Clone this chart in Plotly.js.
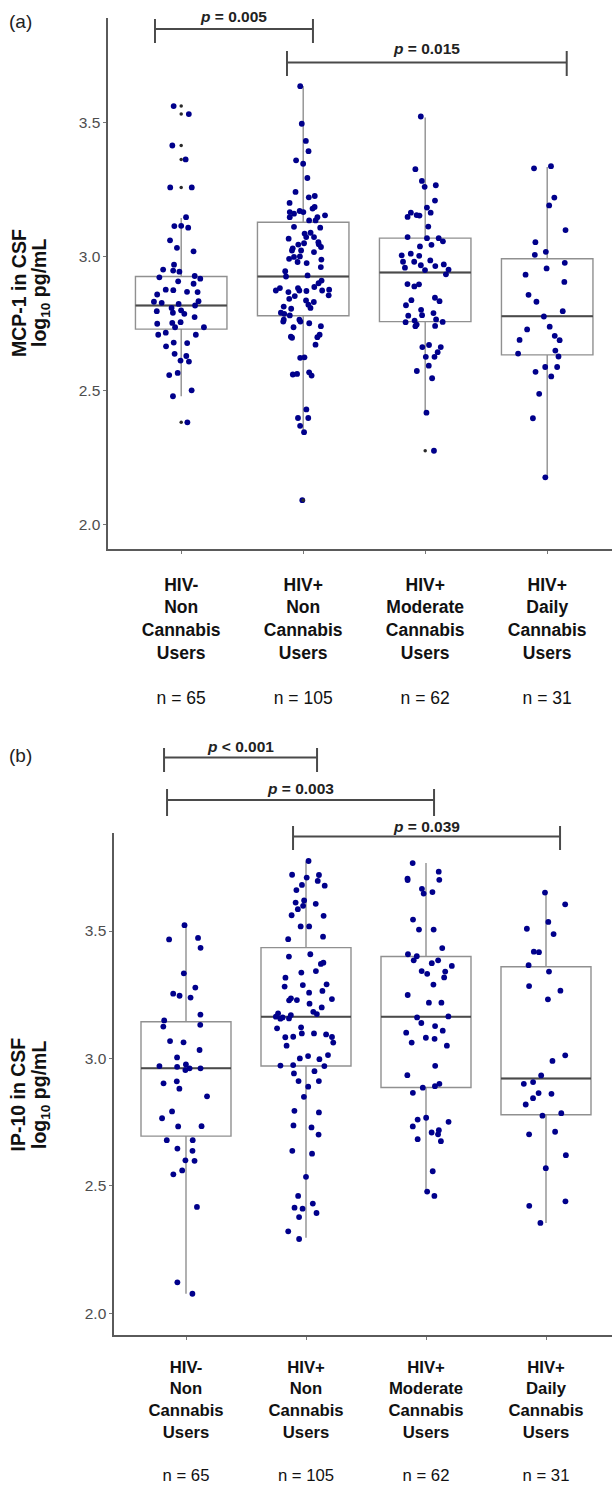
<!DOCTYPE html>
<html><head><meta charset="utf-8">
<script src="https://cdn.plot.ly/plotly-3.0.1.min.js"></script>
<style>html,body{margin:0;padding:0;background:#fff}</style>
</head><body><div id="chart" style="width:612px;height:1487px"></div>
<script>
// ---------------- DATA ----------------
const categories = [1, 2, 3, 4];
const groupLines = [
  ['HIV-', 'Non', 'Cannabis', 'Users'],
  ['HIV+', 'Non', 'Cannabis', 'Users'],
  ['HIV+', 'Moderate', 'Cannabis', 'Users'],
  ['HIV+', 'Daily', 'Cannabis', 'Users']
];
const groupN = [65, 105, 62, 31];

// Panel (a) MCP-1, log10 pg/mL
const mcpG1 = [3.530, 3.560, 3.413, 3.361, 3.257, 3.257, 3.146, 3.114, 3.113, 3.107, 3.060, 3.019, 3.032, 2.969, 2.943, 2.951, 2.947, 2.922, 2.917, 2.907, 2.927, 2.898, 2.874, 2.876, 2.868, 2.867, 2.858, 2.833, 2.831, 2.827, 2.817, 2.808, 2.823, 2.799, 2.790, 2.786, 2.796, 2.774, 2.755, 2.749, 2.752, 2.736, 2.736, 2.708, 2.708, 2.716, 2.677, 2.679, 2.665, 2.637, 2.629, 2.608, 2.612, 2.558, 2.566, 2.501, 2.479, 2.382];
const mcpG2 = [3.634, 3.494, 3.430, 3.358, 3.345, 3.392, 3.292, 3.240, 3.220, 3.225, 3.178, 3.146, 3.146, 3.165, 3.165, 3.169, 3.199, 3.184, 3.159, 3.153, 3.134, 3.085, 3.107, 3.088, 3.072, 3.072, 3.134, 3.066, 3.049, 3.053, 3.022, 2.998, 3.000, 2.988, 3.035, 3.016, 2.975, 2.991, 3.044, 3.022, 2.979, 2.925, 2.910, 3.045, 2.929, 2.945, 2.873, 2.882, 2.876, 2.873, 2.867, 2.852, 2.873, 2.842, 2.882, 2.886, 2.871, 2.855, 2.836, 2.790, 2.764, 2.805, 2.830, 2.813, 2.808, 2.786, 2.764, 2.757, 2.751, 2.757, 2.740, 2.736, 2.708, 2.697, 2.699, 2.701, 2.671, 2.622, 2.624, 2.562, 2.568, 2.556, 2.560, 2.430, 2.398, 2.398, 2.369, 2.345, 2.092, 3.110, 3.030, 2.960, 2.900, 2.820, 2.780];
const mcpG3 = [3.521, 3.325, 3.281, 3.259, 3.265, 3.208, 3.154, 3.163, 3.182, 3.163, 3.152, 3.147, 3.111, 3.072, 3.056, 3.043, 3.068, 3.068, 3.037, 3.002, 2.980, 2.958, 2.964, 2.967, 2.951, 2.985, 2.970, 3.010, 3.004, 2.980, 2.949, 2.933, 2.897, 2.888, 2.896, 2.846, 2.833, 2.818, 2.837, 2.801, 2.781, 2.746, 2.755, 2.765, 2.789, 2.756, 2.761, 2.741, 2.779, 2.740, 2.662, 2.662, 2.670, 2.643, 2.626, 2.626, 2.593, 2.573, 2.546, 2.418, 2.276];
const mcpG4 = [3.336, 3.328, 3.219, 3.190, 3.098, 3.053, 3.006, 3.017, 2.976, 2.955, 2.905, 2.932, 2.831, 2.857, 2.796, 2.776, 2.738, 2.728, 2.704, 2.689, 2.688, 2.638, 2.627, 2.649, 2.588, 2.588, 2.570, 2.553, 2.488, 2.397, 2.177];
const mcpQ1     = [2.729, 2.779, 2.757, 2.633];
const mcpMedian = [2.817, 2.925, 2.940, 2.777];
const mcpQ3     = [2.925, 3.127, 3.068, 2.991];
const mcpLower  = [2.479, 2.348, 2.419, 2.177];
const mcpUpper  = [3.143, 3.634, 3.517, 3.333];
const mcpOutliers = [[3.560, 3.530, 3.413, 3.361, 3.257, 2.382], [2.092], [2.276], []];
const mcpComparisons = [[1, 2], [2, 4]];
const mcpPLabels = ['= 0.005', '= 0.015'];

// Panel (b) IP-10, log10 pg/mL
const ipG1 = [3.523, 3.434, 3.467, 3.473, 3.334, 3.278, 3.246, 3.239, 3.254, 3.172, 3.149, 3.132, 3.125, 3.068, 3.063, 3.033, 3.004, 2.976, 2.961, 2.954, 2.961, 2.970, 2.967, 2.881, 2.910, 2.902, 2.851, 2.792, 2.765, 2.733, 2.734, 2.646, 2.637, 2.679, 2.679, 2.600, 2.598, 2.545, 2.560, 2.417, 2.121, 2.076];
const ipG2 = [3.775, 3.697, 3.721, 3.678, 3.681, 3.661, 3.710, 3.620, 3.599, 3.612, 3.586, 3.562, 3.560, 3.518, 3.468, 3.478, 3.400, 3.371, 3.376, 3.409, 3.337, 3.317, 3.282, 3.288, 3.258, 3.228, 3.236, 3.229, 3.215, 3.174, 3.157, 3.177, 3.164, 3.156, 3.122, 3.094, 3.085, 3.084, 3.083, 3.098, 2.997, 3.009, 3.013, 2.972, 2.970, 2.941, 2.911, 2.911, 2.889, 2.788, 2.737, 2.729, 2.701, 2.626, 2.535, 2.430, 2.377, 2.410, 2.393, 2.414, 2.321, 2.291, 3.720, 3.607, 3.518, 3.343, 3.265, 3.233, 3.291, 3.183, 3.170, 3.161, 3.118, 3.062, 3.098, 3.000, 2.974, 2.849, 2.794, 2.637, 2.460, 3.200, 3.050, 2.950];
const ipG3 = [3.767, 3.733, 3.701, 3.706, 3.700, 3.653, 3.666, 3.647, 3.545, 3.506, 3.506, 3.433, 3.401, 3.409, 3.385, 3.385, 3.374, 3.363, 3.343, 3.341, 3.332, 3.318, 3.290, 3.249, 3.219, 3.219, 3.165, 3.161, 3.139, 3.127, 3.109, 3.101, 3.077, 3.081, 3.062, 3.050, 2.971, 2.934, 2.900, 2.891, 2.885, 2.865, 2.760, 2.751, 2.767, 2.733, 2.709, 2.702, 2.683, 2.718, 2.675, 2.557, 2.460, 2.477];
const ipG4 = [3.651, 3.605, 3.536, 3.509, 3.488, 3.419, 3.417, 3.366, 3.341, 3.284, 3.266, 3.232, 3.012, 2.990, 2.933, 2.907, 2.900, 2.844, 2.861, 2.864, 2.819, 2.785, 2.775, 2.712, 2.702, 2.620, 2.569, 2.421, 2.439, 2.354];
const ipQ1     = [2.695, 2.970, 2.886, 2.779];
const ipMedian = [2.961, 3.164, 3.164, 2.921];
const ipQ3     = [3.144, 3.435, 3.400, 3.360];
const ipLower  = [2.076, 2.296, 2.476, 2.354];
const ipUpper  = [3.520, 3.773, 3.767, 3.651];
const ipOutliers = [[], [], [], []];
const ipComparisons = [[1, 2], [1, 3], [2, 4]];
const ipPLabels = ['< 0.001', '= 0.003', '= 0.039'];

// ---------------- STYLE / LAYOUT ----------------
const W = 612, H = 1487;
const FONT = 'Liberation Sans, Arial, Helvetica, sans-serif';
const BOXW = 0.75;
const px = v => v / W;
const py = v => 1 - v / H;

function statsTrace(xa, ya, q1, med, q3, lo, up) {
  return {type: 'box', xaxis: xa, yaxis: ya, x: categories, q1: q1, median: med, q3: q3,
    lowerfence: lo, upperfence: up, width: BOXW, whiskerwidth: 0, boxpoints: false,
    fillcolor: 'rgba(255,255,255,0)', line: {color: '#909090', width: 1.4}, hoverinfo: 'skip'};
}
function medianTrace(xa, ya, med) {
  return {type: 'box', xaxis: xa, yaxis: ya, x: categories, q1: med, median: med, q3: med,
    lowerfence: med, upperfence: med, width: BOXW, whiskerwidth: 0, boxpoints: false,
    fillcolor: 'rgba(255,255,255,0)', line: {color: '#4a4a4a', width: 2}, hoverinfo: 'skip'};
}
function pointsTrace(xa, ya, groups) {
  const x = [], y = [];
  groups.forEach((g, i) => g.forEach(v => { x.push(categories[i]); y.push(v); }));
  return {type: 'box', xaxis: xa, yaxis: ya, x: x, y: y, boxpoints: 'all', jitter: 0.72, pointpos: 0,
    width: BOXW, whiskerwidth: 0, fillcolor: 'rgba(0,0,0,0)', line: {width: 0, color: 'rgba(0,0,0,0)'},
    marker: {color: '#00008B', size: 5.8, line: {width: 0}}, hoverinfo: 'skip'};
}
function outlierTrace(xa, ya, outs) {
  const x = [], y = [];
  outs.forEach((g, i) => g.forEach(v => { x.push(categories[i]); y.push(v); }));
  return {type: 'scatter', mode: 'markers', xaxis: xa, yaxis: ya, x: x, y: y,
    marker: {color: '#2a2a2a', size: 3.5}, hoverinfo: 'skip'};
}

const tickText = groupLines.map((lines, i) =>
  lines.map(l => '<b>' + l + '</b>').join('<br>') + '<br><br>n = ' + groupN[i]);

const data = [
  statsTrace('x', 'y', mcpQ1, mcpMedian, mcpQ3, mcpLower, mcpUpper),
  medianTrace('x', 'y', mcpMedian),
  pointsTrace('x', 'y', [mcpG1, mcpG2, mcpG3, mcpG4]),
  outlierTrace('x', 'y', mcpOutliers),
  statsTrace('x2', 'y2', ipQ1, ipMedian, ipQ3, ipLower, ipUpper),
  medianTrace('x2', 'y2', ipMedian),
  pointsTrace('x2', 'y2', [ipG1, ipG2, ipG3, ipG4]),
  outlierTrace('x2', 'y2', ipOutliers)
];

function xAxis(domainLeft, rangeRight, anchor, fsize, standoff) {
  return {domain: [px(domainLeft), 1], range: [0.4, rangeRight], anchor: anchor,
    tickmode: 'array', tickvals: categories, ticktext: tickText, tickangle: 0,
    showline: true, linecolor: '#5a5a5a', linewidth: 1.6, ticks: 'outside', ticklen: 3,
    tickcolor: '#777', tickwidth: 1, showgrid: false, zeroline: false,
    ticklabelstandoff: standoff,
    tickfont: {family: FONT, size: fsize, color: '#111'}};
}
function yAxis(top, bottom, range, anchor) {
  return {domain: [py(bottom), py(top)], range: range, anchor: anchor,
    tick0: 2, dtick: 0.5, tickformat: '.1f',
    showline: true, linecolor: '#5a5a5a', linewidth: 1.6, ticks: 'outside', ticklen: 3,
    tickcolor: '#777', tickwidth: 1, showgrid: false, zeroline: false,
    tickfont: {family: FONT, size: 15.5, color: '#4d4d4d'}};
}

const shapes = [], annotations = [];
function addBrackets(xref, comps, labels, offsets, lineY, tickTop, tickBot, textY) {
  comps.forEach((c, i) => {
    const x0 = c[0] + offsets[i][0], x1 = c[1] + offsets[i][1];
    const st = {type: 'line', xref: xref, yref: 'paper', line: {color: '#4a4a4a', width: 2}};
    shapes.push(Object.assign({x0: x0, x1: x1, y0: py(lineY[i]), y1: py(lineY[i])}, st));
    shapes.push(Object.assign({x0: x0, x1: x0, y0: py(tickTop[i]), y1: py(tickBot[i])}, st));
    shapes.push(Object.assign({x0: x1, x1: x1, y0: py(tickTop[i]), y1: py(tickBot[i])}, st));
    annotations.push({xref: xref, yref: 'paper', x: (x0 + x1) / 2, y: py(textY[i]),
      xanchor: 'center', yanchor: 'middle', showarrow: false,
      text: '<b><i>p</i> ' + labels[i] + '</b>', font: {family: FONT, size: 15.5, color: '#222'}});
  });
}
addBrackets('x', mcpComparisons, mcpPLabels, [[-0.215, 0.08], [-0.133, 0.16]],
  [29, 62.5], [19, 51], [43, 76], [16.5, 48.5]);
addBrackets('x2', ipComparisons, ipPLabels, [[-0.183, 0.092], [-0.158, 0.067], [-0.108, 0.117]],
  [757.5, 800, 836.5], [748, 789, 826], [772, 816, 850], [746, 788.5, 826]);

function yTitle(x1, x2, yc, line1) {
  annotations.push({xref: 'paper', yref: 'paper', x: px(x1), y: py(yc), xanchor: 'center', yanchor: 'middle',
    showarrow: false, textangle: -90, text: '<b>' + line1 + '</b>', font: {family: FONT, size: 19.5, color: '#111'}});
  annotations.push({xref: 'paper', yref: 'paper', x: px(x2), y: py(yc), xanchor: 'center', yanchor: 'middle',
    showarrow: false, textangle: -90, text: '<b>log<sub>10</sub> pg/mL</b>', font: {family: FONT, size: 19.5, color: '#111'}});
}
yTitle(19, 40, 293, 'MCP-1 in CSF');
yTitle(17.5, 40, 1095, 'IP-10 in CSF');

annotations.push({xref: 'paper', yref: 'paper', x: px(7), y: py(21), xanchor: 'left', yanchor: 'middle',
  showarrow: false, text: '(a)', font: {family: FONT, size: 19, color: '#222'}});
annotations.push({xref: 'paper', yref: 'paper', x: px(7), y: py(755.5), xanchor: 'left', yanchor: 'middle',
  showarrow: false, text: '(b)', font: {family: FONT, size: 19, color: '#222'}});

const layout = {
  width: W, height: H, margin: {l: 0, r: 0, t: 0, b: 0},
  paper_bgcolor: '#ffffff', plot_bgcolor: '#ffffff', showlegend: false, boxmode: 'overlay',
  font: {family: FONT},
  xaxis: xAxis(108, 0.4 + (W - 108) / 122, 'y', 17.5, 16),
  yaxis: yAxis(18, 549, [1.910, 3.888], 'x'),
  xaxis2: xAxis(114, 0.4 + (W - 114) / 120, 'y2', 16.7, 13),
  yaxis2: yAxis(833, 1335, [1.914, 3.885], 'x2'),
  shapes: shapes, annotations: annotations
};

Plotly.newPlot('chart', data, layout, {staticPlot: true, displayModeBar: false});
</script></body></html>
